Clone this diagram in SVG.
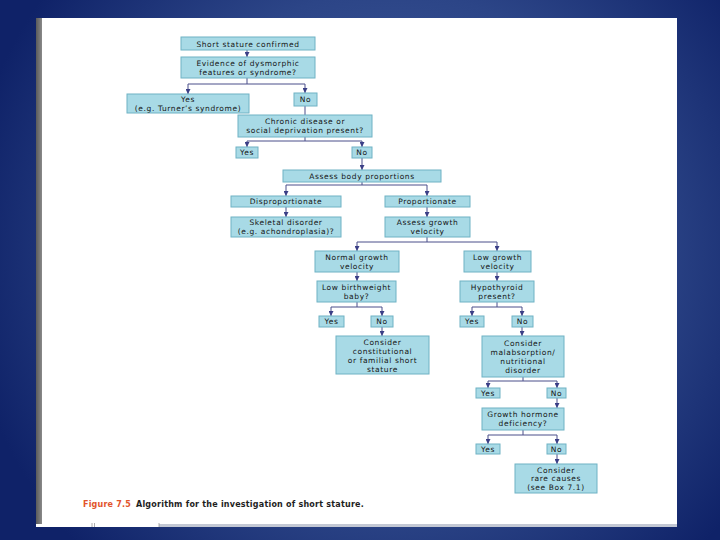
<svg xmlns="http://www.w3.org/2000/svg" width="720" height="540" viewBox="0 0 720 540">
<defs>
<radialGradient id="bg" cx="390" cy="250" r="430" gradientUnits="userSpaceOnUse">
<stop offset="0" stop-color="#4a64a4"/>
<stop offset="0.6" stop-color="#2c4587"/>
<stop offset="1" stop-color="#0f2268"/>
</radialGradient>
<linearGradient id="lbar" x1="0" x2="1" y1="0" y2="0">
<stop offset="0" stop-color="#5a5a5a"/>
<stop offset="1" stop-color="#8a8a8a"/>
</linearGradient>
<marker id="ah" viewBox="0 0 10 10" refX="10" refY="5" markerWidth="5" markerHeight="5" markerUnits="userSpaceOnUse" orient="auto">
<path d="M0,0 L10,5 L0,10 z" fill="#3b3f86"/>
</marker>
<style>
.b{fill:#a8dae6;stroke:#6fb2c4;stroke-width:1}
.t{font-family:"DejaVu Sans",sans-serif;font-size:7.5px;fill:#151515;text-anchor:middle;letter-spacing:0.6px}
.c{fill:none;stroke:#4a4e8a;stroke-width:1}
.a{fill:none;stroke:#4a4e8a;stroke-width:1;marker-end:url(#ah)}
</style>
</defs>
<rect x="0" y="0" width="720" height="540" fill="url(#bg)"/>
<rect x="36" y="18" width="641" height="506" fill="#ffffff"/>
<rect x="36" y="18" width="6" height="506" fill="url(#lbar)"/>
<rect x="36" y="524" width="123" height="3" fill="#ffffff"/>
<rect x="159" y="524" width="518" height="3" fill="#c3c8d4"/>
<line x1="92" y1="523" x2="92" y2="527" stroke="#9a9a9a" stroke-width="0.8"/>
<line x1="94.5" y1="523" x2="94.5" y2="527" stroke="#9a9a9a" stroke-width="0.8"/>
<line x1="159" y1="523" x2="159" y2="527" stroke="#9a9a9a" stroke-width="0.8"/>

<g id="connectors">
<line class="a" x1="247" y1="50" x2="247" y2="57"/>
<line class="c" x1="247" y1="78" x2="247" y2="84"/>
<line class="c" x1="188" y1="84" x2="305" y2="84"/>
<line class="a" x1="188" y1="84" x2="188" y2="94"/>
<line class="a" x1="305" y1="84" x2="305" y2="93"/>
<line class="c" x1="305" y1="106" x2="305" y2="115"/>
<line class="c" x1="305" y1="137" x2="305" y2="141"/>
<line class="c" x1="247" y1="141" x2="362" y2="141"/>
<line class="a" x1="247" y1="141" x2="247" y2="147"/>
<line class="a" x1="362" y1="141" x2="362" y2="147"/>
<line class="a" x1="362" y1="158" x2="362" y2="170"/>
<line class="c" x1="362" y1="182" x2="362" y2="185"/>
<line class="c" x1="286" y1="185" x2="427" y2="185"/>
<line class="a" x1="286" y1="185" x2="286" y2="196"/>
<line class="a" x1="427" y1="185" x2="427" y2="196"/>
<line class="a" x1="286" y1="207" x2="286" y2="217"/>
<line class="a" x1="427" y1="207" x2="427" y2="217"/>
<line class="c" x1="427" y1="237" x2="427" y2="242"/>
<line class="c" x1="357" y1="242" x2="497" y2="242"/>
<line class="a" x1="357" y1="242" x2="357" y2="251"/>
<line class="a" x1="497" y1="242" x2="497" y2="251"/>
<line class="a" x1="357" y1="272" x2="357" y2="281"/>
<line class="a" x1="497" y1="272" x2="497" y2="281"/>
<line class="c" x1="357" y1="302" x2="357" y2="307"/>
<line class="c" x1="331" y1="307" x2="382" y2="307"/>
<line class="a" x1="331" y1="307" x2="331" y2="316"/>
<line class="a" x1="382" y1="307" x2="382" y2="316"/>
<line class="c" x1="497" y1="302" x2="497" y2="307"/>
<line class="c" x1="472" y1="307" x2="522" y2="307"/>
<line class="a" x1="472" y1="307" x2="472" y2="316"/>
<line class="a" x1="522" y1="307" x2="522" y2="316"/>
<line class="a" x1="382" y1="327" x2="382" y2="336"/>
<line class="a" x1="522" y1="327" x2="522" y2="336"/>
<line class="c" x1="523" y1="377" x2="523" y2="381"/>
<line class="c" x1="488" y1="381" x2="557" y2="381"/>
<line class="a" x1="488" y1="381" x2="488" y2="388"/>
<line class="a" x1="557" y1="381" x2="557" y2="388"/>
<line class="a" x1="557" y1="398" x2="557" y2="408"/>
<line class="c" x1="523" y1="430" x2="523" y2="435"/>
<line class="c" x1="488" y1="435" x2="557" y2="435"/>
<line class="a" x1="488" y1="435" x2="488" y2="444"/>
<line class="a" x1="557" y1="435" x2="557" y2="444"/>
<line class="a" x1="557" y1="454" x2="557" y2="464"/>
</g>

<g id="n1"><rect class="b" x="181" y="37" width="134" height="13"/><text class="t" x="248" y="46.5">Short stature confirmed</text></g>
<g id="n2"><rect class="b" x="181" y="57" width="134" height="21"/><text class="t" x="248" y="66">Evidence of dysmorphic</text><text class="t" x="248" y="75">features or syndrome?</text></g>
<g id="n3"><rect class="b" x="127" y="94" width="122" height="19"/><text class="t" x="188" y="102">Yes</text><text class="t" x="188" y="110.5">(e.g. Turner’s syndrome)</text></g>
<g id="n4"><rect class="b" x="294" y="93" width="23" height="13"/><text class="t" x="305.5" y="102">No</text></g>
<g id="n5"><rect class="b" x="238" y="115" width="134" height="22"/><text class="t" x="305" y="124">Chronic disease or</text><text class="t" x="305" y="133">social deprivation present?</text></g>
<g id="n6"><rect class="b" x="236" y="147" width="22" height="11"/><text class="t" x="247" y="155">Yes</text></g>
<g id="n7"><rect class="b" x="352" y="147" width="20" height="11"/><text class="t" x="362" y="155">No</text></g>
<g id="n8"><rect class="b" x="283" y="170" width="158" height="12"/><text class="t" x="362" y="178.5">Assess body proportions</text></g>
<g id="n9"><rect class="b" x="231" y="196" width="110" height="11"/><text class="t" x="286" y="204">Disproportionate</text></g>
<g id="n10"><rect class="b" x="385" y="196" width="85" height="11"/><text class="t" x="427.5" y="204">Proportionate</text></g>
<g id="n11"><rect class="b" x="231" y="217" width="110" height="20"/><text class="t" x="286" y="225">Skeletal disorder</text><text class="t" x="286" y="234">(e.g. achondroplasia)?</text></g>
<g id="n12"><rect class="b" x="385" y="217" width="85" height="20"/><text class="t" x="427.5" y="225">Assess growth</text><text class="t" x="427.5" y="234">velocity</text></g>
<g id="n13"><rect class="b" x="315" y="251" width="84" height="21"/><text class="t" x="357" y="259.5">Normal growth</text><text class="t" x="357" y="268.5">velocity</text></g>
<g id="n14"><rect class="b" x="464" y="251" width="67" height="21"/><text class="t" x="497.5" y="259.5">Low growth</text><text class="t" x="497.5" y="268.5">velocity</text></g>
<g id="n15"><rect class="b" x="317" y="281" width="79" height="21"/><text class="t" x="356.5" y="289.5">Low birthweight</text><text class="t" x="356.5" y="298.5">baby?</text></g>
<g id="n16"><rect class="b" x="460" y="281" width="74" height="21"/><text class="t" x="497" y="289.5">Hypothyroid</text><text class="t" x="497" y="298.5">present?</text></g>
<g id="n17"><rect class="b" x="319" y="316" width="25" height="11"/><text class="t" x="331.5" y="324">Yes</text></g>
<g id="n18"><rect class="b" x="371" y="316" width="22" height="11"/><text class="t" x="382" y="324">No</text></g>
<g id="n19"><rect class="b" x="460" y="316" width="24" height="11"/><text class="t" x="472" y="324">Yes</text></g>
<g id="n20"><rect class="b" x="512" y="316" width="21" height="11"/><text class="t" x="522.5" y="324">No</text></g>
<g id="n21"><rect class="b" x="336" y="336" width="93" height="38"/><text class="t" x="382.5" y="345">Consider</text><text class="t" x="382.5" y="354">constitutional</text><text class="t" x="382.5" y="363">or familial short</text><text class="t" x="382.5" y="372">stature</text></g>
<g id="n22"><rect class="b" x="482" y="336" width="82" height="41"/><text class="t" x="523" y="345.5">Consider</text><text class="t" x="523" y="354.5">malabsorption/</text><text class="t" x="523" y="363.5">nutritional</text><text class="t" x="523" y="372.5">disorder</text></g>
<g id="n23"><rect class="b" x="476" y="388" width="24" height="10"/><text class="t" x="488" y="395.5">Yes</text></g>
<g id="n24"><rect class="b" x="547" y="388" width="19" height="10"/><text class="t" x="556.5" y="395.5">No</text></g>
<g id="n25"><rect class="b" x="482" y="408" width="82" height="22"/><text class="t" x="523" y="417">Growth hormone</text><text class="t" x="523" y="426">deficiency?</text></g>
<g id="n26"><rect class="b" x="476" y="444" width="24" height="10"/><text class="t" x="488" y="451.5">Yes</text></g>
<g id="n27"><rect class="b" x="547" y="444" width="19" height="10"/><text class="t" x="556.5" y="451.5">No</text></g>
<g id="n28"><rect class="b" x="515" y="464" width="82" height="29"/><text class="t" x="556" y="472.5">Consider</text><text class="t" x="556" y="481">rare causes</text><text class="t" x="556" y="489.5">(see Box 7.1)</text></g>

<text x="83" y="507" font-family="DejaVu Sans, sans-serif" font-size="8" font-weight="bold" letter-spacing="0.2" fill="#e2542c">Figure 7.5</text>
<text x="136" y="507" font-family="DejaVu Sans, sans-serif" font-size="8" font-weight="bold" letter-spacing="0.22" fill="#1e1e1e">Algorithm for the investigation of short stature.</text>
</svg>
